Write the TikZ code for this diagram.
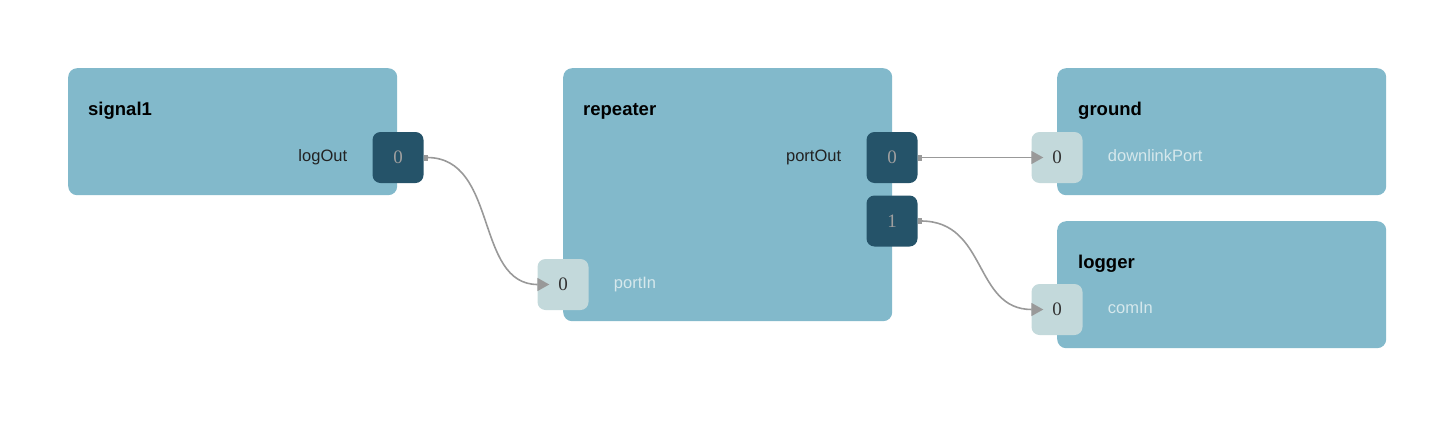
\documentclass[tikz,border=0pt]{standalone}
\usepackage{fontspec}
\newfontfamily\uisans{Liberation Sans}
\newfontfamily\numserif{Liberation Serif}
\usetikzlibrary{arrows.meta,positioning}
\definecolor{blockblue}{HTML}{82B9CB}
\definecolor{portdark}{HTML}{255369}
\definecolor{portlight}{HTML}{C3D9DB}
\definecolor{linkgray}{HTML}{999999}
\definecolor{lbldark}{HTML}{222222}
\definecolor{lbllight}{HTML}{D6E8EC}

\begin{document}
\begin{tikzpicture}[x=1pt,y=-1pt,
    block/.style={fill=blockblue,rounded corners=9pt,anchor=north west,minimum width=329pt},
    title/.style={anchor=base west,inner sep=0pt,font=\uisans\fontsize{18.5}{20}\selectfont\bfseries},
    outport/.style={fill=portdark,rounded corners=8pt,minimum size=51pt,text=gray!75,font=\numserif\fontsize{19}{20}\selectfont},
    inport/.style={fill=portlight,rounded corners=8pt,minimum size=51pt,text=black!80,font=\numserif\fontsize{19}{20}\selectfont},
    lbl/.style={font=\uisans\fontsize{16.5}{18}\selectfont,text height=12pt,text depth=3.5pt,inner sep=0pt},
    link/.style={draw=linkgray,line width=1.6pt,{Square[length=4pt,width=6pt]}-{Triangle[length=12pt,width=13pt]}}]
\useasboundingbox (0,0) rectangle (1455,442);
\node[block,minimum height=127pt] (sig) at (68,68) {};
\node[block,minimum height=253pt] (rep) at (563,68) {};
\node[block,minimum height=127pt] (gnd) at (1057,68) {};
\node[block,minimum height=127pt] (logr) at (1057,221) {};
\node[title] at (88,115) {signal1};
\node[title] at (583,115) {repeater};
\node[title] at (1078,115) {ground};
\node[title] at (1078,268) {logger};
\node[outport] (logOut) at (398,157.5) {0};
\node[outport] (portOut) at (892,157.5) {0};
\node[outport] (portOne) at (892,221) {1};
\node[inport] (portIn) at (563,284.5) {0};
\node[inport] (downlink) at (1057,157.5) {0};
\node[inport] (comIn) at (1057,309.5) {0};
\node[lbl,text=lbldark,left=25pt of logOut] {logOut};
\node[lbl,text=lbldark,left=25pt of portOut] {portOut};
\node[lbl,text=lbllight,right=25pt of portIn] {portIn};
\node[lbl,text=lbllight,right=25pt of downlink] {downlinkPort};
\node[lbl,text=lbllight,right=25pt of comIn] {comIn};
\draw[link] (logOut.east) .. controls +(75,0) and +(-75,0) .. ([xshift=12pt]portIn.west);
\draw[link] (portOut.east) -- ([xshift=12pt]downlink.west);
\draw[link] (portOne.east) .. controls +(70,0) and +(-70,0) .. ([xshift=12pt]comIn.west);
\end{tikzpicture}
\end{document}
